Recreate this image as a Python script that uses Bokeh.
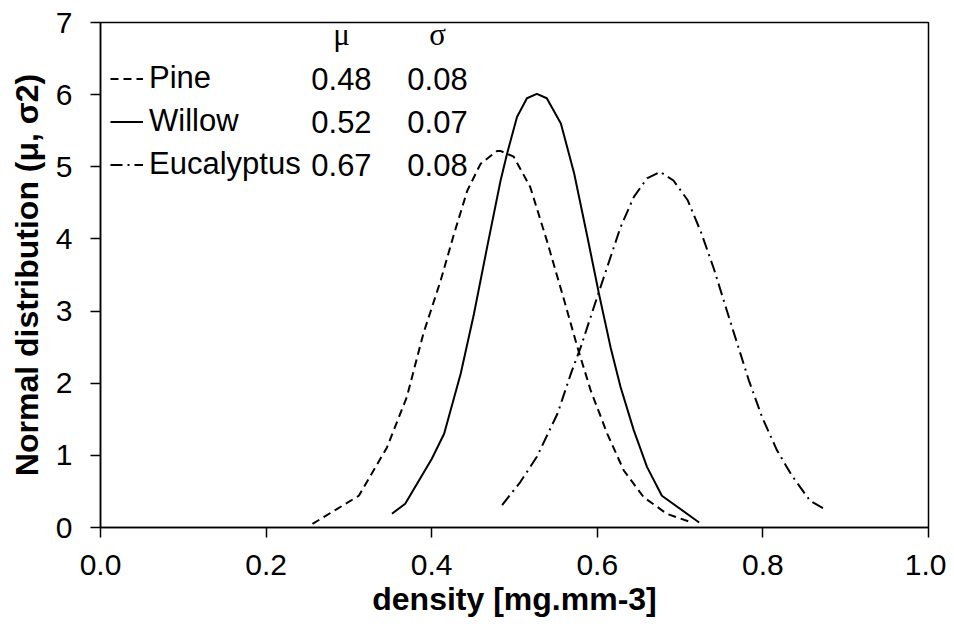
from bokeh.plotting import figure
from bokeh.models import Range1d, FixedTicker, NumeralTickFormatter, Legend, LegendItem, Label
from bokeh.embed import file_html
from bokeh.resources import INLINE

# ---- data ----
species = ["Pine", "Willow", "Eucalyptus"]
mu_vals = ["0.48", "0.52", "0.67"]
sigma_vals = ["0.08", "0.07", "0.08"]

pine_x = [0.256, 0.312, 0.346, 0.370, 0.390, 0.411, 0.427, 0.443, 0.459, 0.479, 0.483,
          0.499, 0.519, 0.539, 0.560, 0.576, 0.592, 0.612, 0.632, 0.656, 0.684, 0.714]
pine_y = [0.05, 0.44, 1.11, 1.81, 2.69, 3.43, 4.07, 4.67, 5.04, 5.22, 5.22,
          5.14, 4.72, 3.98, 3.15, 2.50, 1.90, 1.30, 0.79, 0.42, 0.19, 0.07]

willow_x = [0.352, 0.368, 0.400, 0.415, 0.435, 0.451, 0.467, 0.483, 0.491, 0.503, 0.515,
            0.527, 0.539, 0.556, 0.572, 0.588, 0.602, 0.616, 0.628, 0.644, 0.660, 0.678, 0.723]
willow_y = [0.19, 0.33, 0.95, 1.30, 2.13, 2.96, 3.89, 4.80, 5.18, 5.69, 5.95,
            6.01, 5.95, 5.60, 4.91, 4.03, 3.24, 2.50, 1.95, 1.35, 0.84, 0.44, 0.07]

euc_x = [0.485, 0.507, 0.527, 0.552, 0.568, 0.580, 0.596, 0.612, 0.628, 0.644, 0.660,
         0.676, 0.692, 0.709, 0.725, 0.741, 0.755, 0.769, 0.783, 0.799, 0.817, 0.835, 0.857, 0.877]
euc_y = [0.31, 0.63, 0.98, 1.58, 2.13, 2.50, 3.06, 3.61, 4.16, 4.58, 4.84,
         4.93, 4.81, 4.54, 4.10, 3.58, 3.06, 2.55, 2.04, 1.53, 1.07, 0.72, 0.37, 0.24]

x_ticks = [0.0, 0.2, 0.4, 0.6, 0.8, 1.0]
y_ticks = [0, 1, 2, 3, 4, 5, 6, 7]
x_title = "density [mg.mm-3]"
y_title = "Normal distribution (\u03bc, \u03c32)"

FONT = "Liberation Sans"
TICK_FS = "30px"
TITLE_FS = "32px"
LEG_FS = "31px"

p = figure(frame_width=828, frame_height=505, output_backend="svg", toolbar_location=None,
           x_range=Range1d(0, 1), y_range=Range1d(0, 7),
           min_border_left=100, min_border_right=18, min_border_top=22, min_border_bottom=80)

p.background_fill_color = "white"
p.border_fill_color = "white"
p.outline_line_color = "black"
p.outline_line_width = 1.5
p.xgrid.visible = False
p.ygrid.visible = False

for ax in (p.xaxis[0], p.yaxis[0]):
    ax.axis_line_color = "black"
    ax.axis_line_width = 1.5
    ax.major_tick_in = 0
    ax.major_tick_out = 10
    ax.major_tick_line_width = 1.5
    ax.minor_tick_line_color = None
    ax.major_label_text_font = FONT
    ax.major_label_text_font_size = TICK_FS
    ax.major_label_text_color = "black"
    ax.axis_label_text_font = FONT
    ax.axis_label_text_font_size = TITLE_FS
    ax.axis_label_text_font_style = "bold"
    ax.axis_label_text_color = "black"

p.xaxis.ticker = FixedTicker(ticks=x_ticks)
p.xaxis.formatter = NumeralTickFormatter(format="0.0")
p.yaxis.ticker = FixedTicker(ticks=y_ticks)
p.xaxis.axis_label = x_title
p.yaxis.axis_label = y_title
p.xaxis.major_label_standoff = 17
p.yaxis.major_label_standoff = 18
p.xaxis.axis_label_standoff = 3
p.yaxis.axis_label_standoff = 8

r_pine = p.line(pine_x, pine_y, line_color="black", line_width=2, line_dash="8 5")
r_willow = p.line(willow_x, willow_y, line_color="black", line_width=2)
r_euc = p.line(euc_x, euc_y, line_color="black", line_width=2, line_dash="12 5 2 5")

legend = Legend(items=[LegendItem(label=species[0], renderers=[r_pine]),
                       LegendItem(label=species[1], renderers=[r_willow]),
                       LegendItem(label=species[2], renderers=[r_euc])],
                location=(10, 345), orientation="vertical",
                background_fill_alpha=0, border_line_color=None,
                padding=0, margin=0, spacing=7,
                glyph_width=33, glyph_height=35, label_height=35, label_standoff=6,
                label_text_font=FONT, label_text_font_size=LEG_FS, label_text_color="black")
p.add_layout(legend, "center")

# table of parameters
col_mu = 0.291
col_sigma = 0.407
row_y = [6.21, 5.62, 5.03]
header_y = 6.84
p.add_layout(Label(x=col_mu, y=header_y, text="\u03bc", text_font="Liberation Serif", text_font_size=LEG_FS,
                   text_align="center", text_baseline="middle", text_color="black"))
p.add_layout(Label(x=col_sigma, y=header_y, text="\u03c3", text_font="Liberation Serif", text_font_size=LEG_FS,
                   text_align="center", text_baseline="middle", text_color="black"))
for i in range(3):
    p.add_layout(Label(x=col_mu, y=row_y[i], text=mu_vals[i], text_font=FONT, text_font_size=LEG_FS,
                       text_align="center", text_baseline="middle", text_color="black"))
    p.add_layout(Label(x=col_sigma, y=row_y[i], text=sigma_vals[i], text_font=FONT, text_font_size=LEG_FS,
                       text_align="center", text_baseline="middle", text_color="black"))

open("out.html", "w").write(file_html(p, INLINE))
